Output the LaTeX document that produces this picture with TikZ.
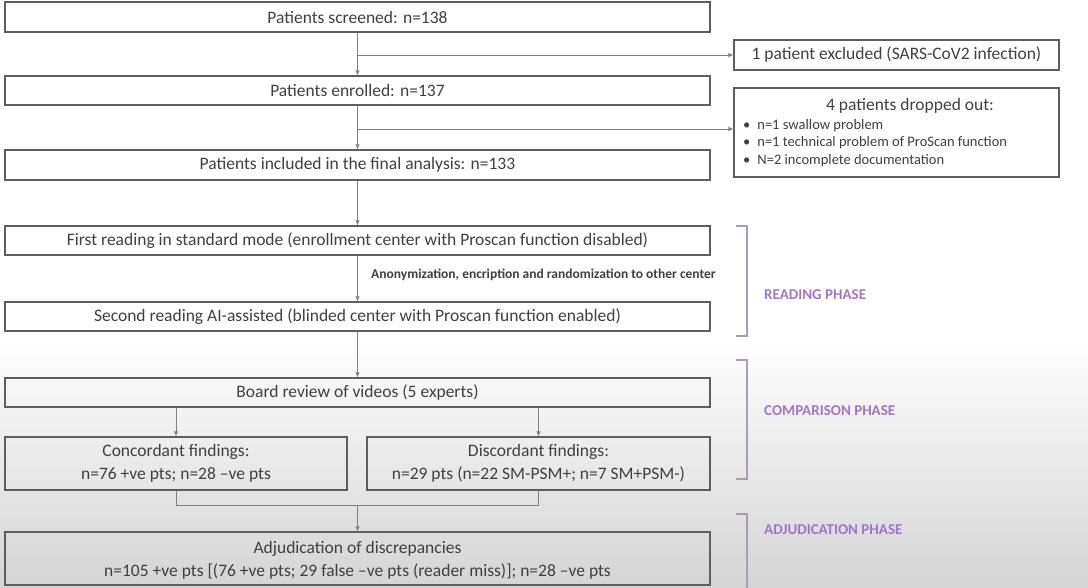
\documentclass[tikz,border=0pt]{standalone}
\usepackage{fontspec}
\setmainfont{Carlito}
\usetikzlibrary{arrows.meta,positioning}
\definecolor{boxline}{HTML}{5E5E5E}
\definecolor{txt}{HTML}{404040}
\definecolor{conn}{HTML}{808080}
\definecolor{phase}{HTML}{A374CC}
\definecolor{brk}{HTML}{A99CB8}
\definecolor{bggray}{HTML}{D4D4D4}
\tikzset{
  flowbox/.style={draw=boxline, line width=1.1pt, text=txt, inner sep=0pt, font=\fontsize{17.5}{21}\selectfont, align=center},
  conline/.style={draw=conn, line width=0.8pt},
  conarrow/.style={conline, -{Latex[length=5pt,width=4.5pt]}},
  phaselabel/.style={text=phase, font=\fontsize{15}{18}\selectfont\bfseries, anchor=west, inner sep=0pt},
  bracketline/.style={draw=brk, line width=1.3pt},
  notelabel/.style={text=txt, font=\fontsize{13.5}{16}\selectfont\bfseries, inner sep=0pt}
}
\begin{document}
\begin{tikzpicture}[x=1pt,y=-1pt]
\useasboundingbox (0,0) rectangle (1088,588);
\fill[white] (0,0) rectangle (1088,588);
\shade[top color=white, bottom color=bggray] (0,335) rectangle (1088,588);

% main column boxes
\node[flowbox, minimum width=705pt, minimum height=30pt] (screened) at (357.5,17) {Patients screened: n=138};
\node[flowbox, minimum width=705pt, minimum height=29pt] (enrolled) at (357.5,90.5) {Patients enrolled: n=137};
\node[flowbox, minimum width=705pt, minimum height=30pt] (final) at (357.5,165) {Patients included in the final analysis: n=133};
\node[flowbox, minimum width=705pt, minimum height=29pt] (first) at (357.5,240.5) {First reading in standard mode (enrollment center with Proscan function disabled)};
\node[flowbox, minimum width=705pt, minimum height=29pt] (second) at (357.5,316.5) {Second reading AI-assisted (blinded center with Proscan function enabled)};
\node[flowbox, minimum width=705pt, minimum height=29pt] (board) at (357.5,392.5) {Board review of videos (5 experts)};
\node[flowbox, minimum width=342pt, minimum height=53pt] (conc) at (176,463.5) {Concordant findings:\\[2pt] n=76 +ve pts; n=28 --ve pts};
\node[flowbox, minimum width=343pt, minimum height=53pt] (disc) at (538.5,463.5) {Discordant findings:\\[2pt] n=29 pts (n=22 SM-PSM+; n=7 SM+PSM-)};
\node[flowbox, minimum width=705pt, minimum height=53pt] (adj) at (357.5,558.5) {\\[-6pt]Adjudication of discrepancies\\[2pt] n=105 +ve pts [(76 +ve pts; 29 false --ve pts (reader miss)]; n=28 --ve pts};

% side boxes
\node[flowbox, minimum width=325pt, minimum height=30pt] (excl) at (896.5,55) {1 patient excluded (SARS-CoV2 infection)};
\node[flowbox, minimum width=325pt, minimum height=89pt] (drop) at (896.5,132.5) {};
\node[text=txt, font=\fontsize{17.5}{21}\selectfont, inner sep=0pt] (droptitle) at (910,106) {4 patients dropped out:};
\node[text=txt, font=\fontsize{14.5}{17.5}\selectfont, inner sep=0pt, anchor=north west, align=left] (droplist) at (743,119)
  {\textbullet\hspace{7pt}n=1 swallow problem\\
   \textbullet\hspace{7pt}n=1 technical problem of ProScan function\\
   \textbullet\hspace{7pt}N=2 incomplete documentation};

% connectors
\coordinate (j1) at (screened.south |- excl.west);
\coordinate (j2) at (enrolled.south |- 0,129);
\draw[conarrow] (screened.south) -- (enrolled.north);
\draw[conarrow] (j1) -- (excl.west);
\draw[conarrow] (enrolled.south) -- (final.north);
\draw[conarrow] (j2) -- (j2 -| drop.west);
\draw[conarrow] (final.south) -- (first.north);
\draw[conarrow] (first.south) -- (second.north);
\node[notelabel, anchor=west] (anon) at (371,275) {Anonymization, encription and randomization to other center};
\draw[conarrow] (second.south) -- (board.north);
\draw[conarrow] (board.south -| conc.north) -- (conc.north);
\draw[conarrow] (board.south -| disc.north) -- (disc.north);
\coordinate (m1) at (176,505);
\coordinate (m2) at (538.5,505);
\coordinate (m3) at (357.5,505);
\draw[conline] (conc.south) -- (m1) -- (m2) -- (disc.south);
\draw[conarrow] (m3) -- (adj.north);

% phase brackets
\draw[bracketline] (736,226) -- (747,226) -- (747,336) -- (736,336);
\draw[bracketline] (736,360) -- (747,360) -- (747,479) -- (736,479);
\draw[bracketline] (736,514) -- (747,514) -- (747,590);
\node[phaselabel] (rp) at (764,295) {READING PHASE};
\node[phaselabel] (cp) at (764,411) {COMPARISON PHASE};
\node[phaselabel] (ap) at (764,530) {ADJUDICATION PHASE};
\end{tikzpicture}
\end{document}
